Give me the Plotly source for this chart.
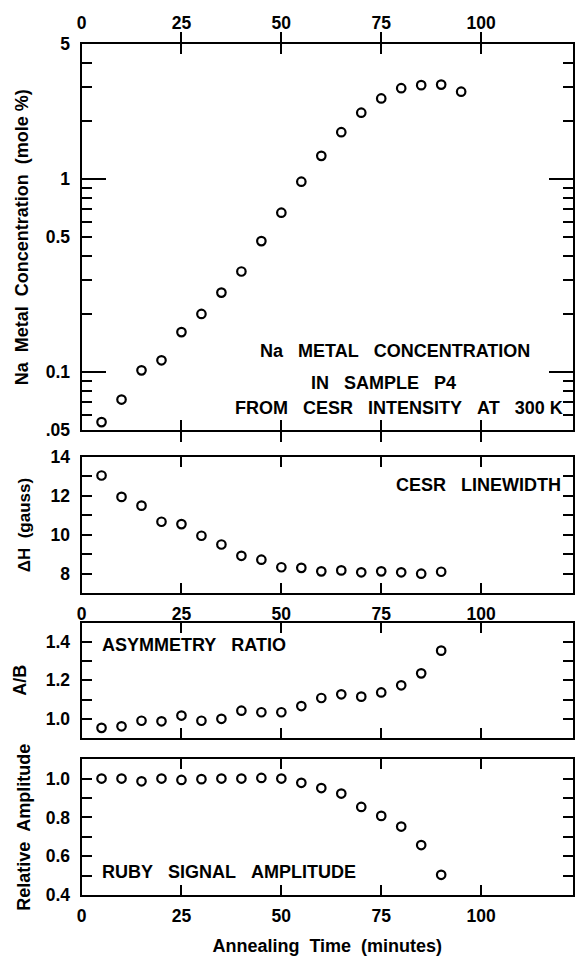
import plotly.graph_objects as go
import math

# ---------------- data ----------------
t_na = [5, 10, 15, 20, 25, 30, 35, 40, 45, 50, 55, 60, 65, 70, 75, 80, 85, 90, 95]
na_conc = [0.055, 0.072, 0.102, 0.115, 0.161, 0.200, 0.258, 0.332, 0.477, 0.67,
           0.97, 1.32, 1.75, 2.21, 2.62, 2.96, 3.07, 3.09, 2.84]

t_dh = [5, 10, 15, 20, 25, 30, 35, 40, 45, 50, 55, 60, 65, 70, 75, 80, 85, 90]
linewidth = [13.05, 11.95, 11.5, 10.67, 10.55, 9.95, 9.5, 8.92, 8.72, 8.33,
             8.3, 8.12, 8.17, 8.07, 8.12, 8.07, 8.0, 8.1]

t_ab = [5, 10, 15, 20, 25, 30, 35, 40, 45, 50, 55, 60, 65, 70, 75, 80, 85, 90]
asym = [0.953, 0.961, 0.99, 0.987, 1.017, 0.99, 1.0, 1.042, 1.034, 1.034,
        1.066, 1.108, 1.127, 1.115, 1.137, 1.174, 1.236, 1.354]

t_amp = [5, 10, 15, 20, 25, 30, 35, 40, 45, 50, 55, 60, 65, 70, 75, 80, 85, 90]
amplitude = [1.0, 1.0, 0.986, 1.0, 0.993, 0.997, 1.0, 1.0, 1.003, 1.0,
             0.978, 0.951, 0.923, 0.854, 0.808, 0.753, 0.658, 0.505]

x_ticks = [0, 25, 50, 75, 100]
na_tickvals = [0.05, 0.1, 0.5, 1, 5]
na_ticktext = [".05", "0.1", "0.5", "1", "5"]
na_minor = [0.06, 0.07, 0.08, 0.09, 0.2, 0.3, 0.4, 0.5, 0.6, 0.7, 0.8, 0.9, 2, 3, 4]
dh_tickvals = [8, 10, 12, 14]
ab_tickvals = [1.0, 1.2, 1.4]
ab_ticktext = ["1.0", "1.2", "1.4"]
amp_tickvals = [0.4, 0.6, 0.8, 1.0]
amp_ticktext = ["0.4", "0.6", "0.8", "1.0"]

# ---------------- layout geometry ----------------
W, H = 575, 963
LEFT = 77.5
X_MAX = (W - LEFT) / 4.045

def dom(top_px, bottom_px):
    return [1 - bottom_px / H, 1 - top_px / H]

FONT = "Liberation Sans"
tickfont = dict(family=FONT, size=17.5, color="black", weight="bold")
titlefont = dict(family=FONT, size=18, color="black", weight="bold")
NB = "\u00a0"

marker = dict(symbol="circle-open", size=8.5, color="black", line=dict(width=2.2, color="black"))

fig = go.Figure()
fig.add_trace(go.Scatter(x=t_na, y=na_conc, mode="markers", marker=marker, xaxis="x", yaxis="y"))
fig.add_trace(go.Scatter(x=t_dh, y=linewidth, mode="markers", marker=marker, xaxis="x2", yaxis="y2"))
fig.add_trace(go.Scatter(x=t_ab, y=asym, mode="markers", marker=marker, xaxis="x3", yaxis="y3"))
fig.add_trace(go.Scatter(x=t_amp, y=amplitude, mode="markers", marker=marker, xaxis="x4", yaxis="y4"))
# empty helper trace on overlay axis (carries long ticks at decades)
fig.add_trace(go.Scatter(x=[], y=[], mode="markers", xaxis="x", yaxis="y5", showlegend=False))

xcommon = dict(range=[0, X_MAX], domain=[LEFT / W, 1], showline=True, linewidth=2, linecolor="black",
               mirror="allticks", ticks="inside", ticklen=10, tickwidth=2, tickcolor="black",
               tickvals=x_ticks, showgrid=False, zeroline=False, tickfont=tickfont)
ycommon = dict(showline=True, linewidth=2, linecolor="black", mirror="allticks", ticks="inside",
               ticklen=10, tickwidth=2, tickcolor="black", showgrid=False, zeroline=False,
               tickfont=tickfont, title_font=titlefont, ticklabelstandoff=6)

p1 = dom(35, 429)
p2 = dom(456.5, 595.5)
p3 = dom(625.5, 743.5)
p4 = dom(765, 904)

fig.update_layout(
    width=W, height=H, margin=dict(l=0, r=0, t=0, b=0),
    paper_bgcolor="white", plot_bgcolor="white", showlegend=False,
    xaxis=dict(xcommon, anchor="y", side="top", ticklabelstandoff=6),
    yaxis=dict(ycommon, domain=p1, anchor="x", type="log",
               range=[math.log10(0.05), math.log10(5)],
               tickvals=na_tickvals, ticktext=na_ticktext,
               minor=dict(tickvals=na_minor, ticks="inside", ticklen=10, tickwidth=2, tickcolor="black"),
               title=dict(text=f"Na{NB}{NB}Metal{NB}{NB}Concentration{NB}{NB}(mole{NB}%)", standoff=12)),
    yaxis5=dict(domain=p1, anchor="x", overlaying="y", type="log",
                range=[math.log10(0.05), math.log10(5)], tickvals=[0.1, 1], ticks="inside",
                ticklen=24, tickwidth=2, tickcolor="black", showticklabels=False,
                showline=False, mirror="allticks", showgrid=False, zeroline=False),
    xaxis2=dict(xcommon, anchor="y2", side="bottom", ticklabelstandoff=4),
    yaxis2=dict(ycommon, domain=p2, anchor="x2", range=[7, 14], tickvals=dh_tickvals,
                minor=dict(dtick=1, ticks="inside", ticklen=10, tickwidth=2, tickcolor="black"),
                title=dict(text=f"\u0394H{NB}{NB}(gauss)", standoff=16,
                           font=dict(family=FONT, size=17, color="black", weight="bold"))),
    xaxis3=dict(xcommon, anchor="y3", showticklabels=False),
    yaxis3=dict(ycommon, domain=p3, anchor="x3", range=[0.9, 1.5], tickvals=ab_tickvals,
                ticktext=ab_ticktext,
                minor=dict(tickvals=[1.1, 1.3], ticks="inside", ticklen=10, tickwidth=2, tickcolor="black"),
                title=dict(text="A/B", standoff=14)),
    xaxis4=dict(xcommon, anchor="y4", side="bottom", ticklabelstandoff=4,
                title=dict(text=f"Annealing{NB}{NB}Time{NB}{NB}(minutes)", font=titlefont, standoff=14)),
    yaxis4=dict(ycommon, domain=p4, anchor="x4", range=[0.4, 1.1], tickvals=amp_tickvals,
                ticktext=amp_ticktext,
                minor=dict(tickvals=[0.5, 0.7, 0.9], ticks="inside", ticklen=10, tickwidth=2, tickcolor="black"),
                title=dict(text=f"Relative{NB}{NB}Amplitude", standoff=10)),
)

annfont = dict(family=FONT, size=18, color="black", weight="bold")
sp = NB * 3
fig.add_annotation(x=78.5, y=math.log10(0.128), xref="x", yref="y", showarrow=False, font=annfont,
                   text=f"Na{sp}METAL{sp}CONCENTRATION", xanchor="center")
fig.add_annotation(x=75.5, y=math.log10(0.088), xref="x", yref="y", showarrow=False, font=annfont,
                   text=f"IN{sp}SAMPLE{sp}P4", xanchor="center")
fig.add_annotation(x=121, y=math.log10(0.065), xref="x", yref="y", showarrow=False, font=annfont,
                   text=f"FROM{sp}CESR{sp}INTENSITY{sp}AT{sp}300{NB}K", xanchor="right")
fig.add_annotation(x=120.5, y=12.55, xref="x2", yref="y2", showarrow=False, font=annfont,
                   text=f"CESR{sp}LINEWIDTH", xanchor="right")
fig.add_annotation(x=4.5, y=1.385, xref="x3", yref="y3", showarrow=False, font=annfont,
                   text=f"ASYMMETRY{sp}RATIO", xanchor="left")
fig.add_annotation(x=4.5, y=0.52, xref="x4", yref="y4", showarrow=False, font=annfont,
                   text=f"RUBY{sp}SIGNAL{sp}AMPLITUDE", xanchor="left")

fig.write_html("out.html")
